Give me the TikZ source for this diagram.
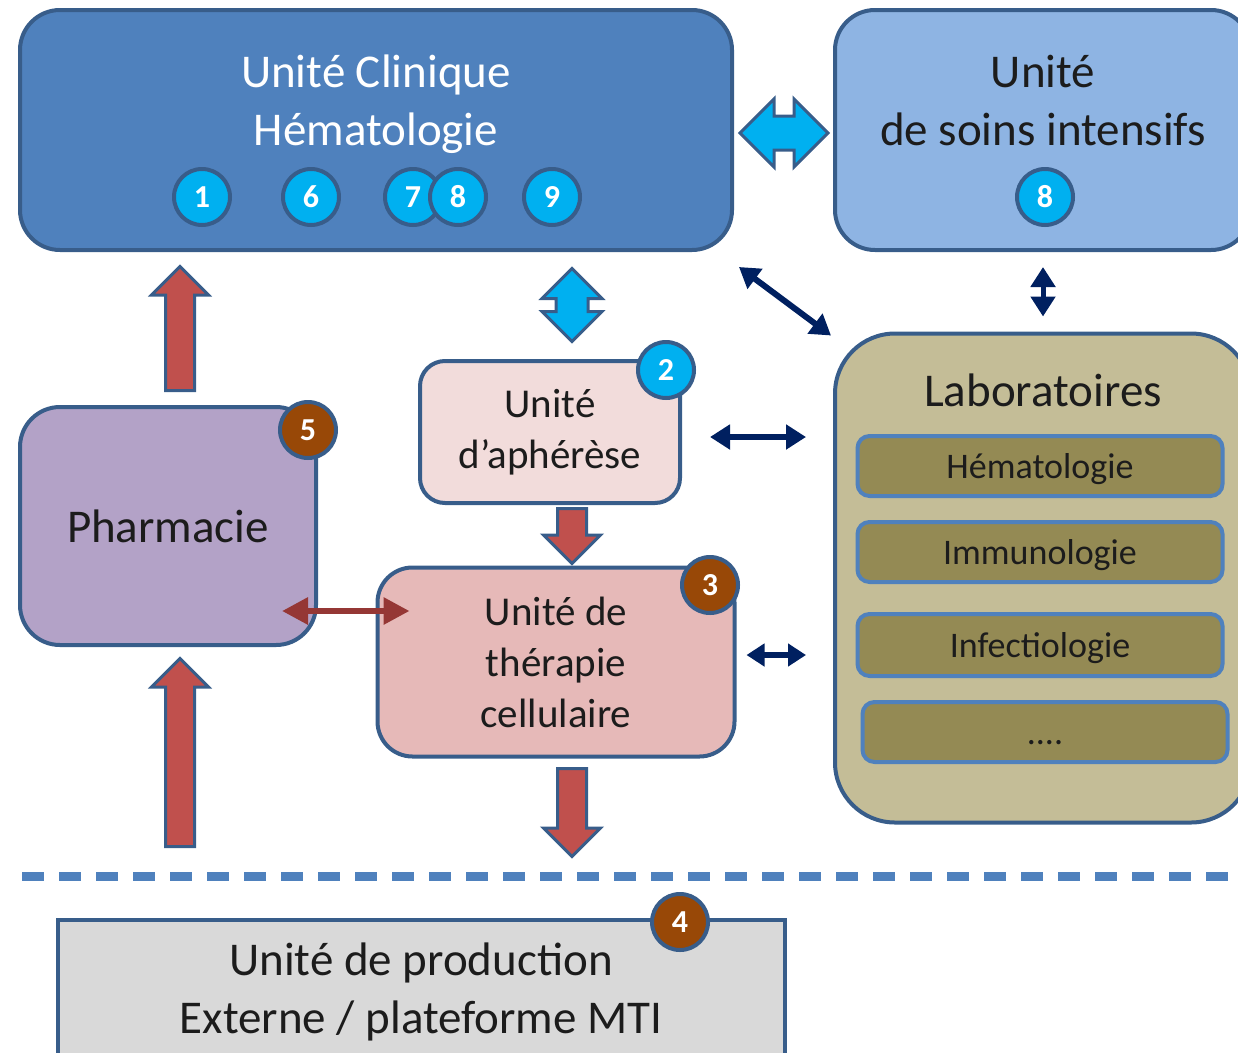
\documentclass[tikz,border=0pt]{standalone}
\usepackage{fontspec}
\setmainfont{Carlito}
\usepackage{tikz}
\usetikzlibrary{arrows.meta,shapes.arrows,calc}

\definecolor{frame}{HTML}{385D8A}
\definecolor{clinfill}{HTML}{4F81BD}
\definecolor{soinsfill}{HTML}{8EB4E3}
\definecolor{cyanb}{HTML}{00B0F0}
\definecolor{brownb}{HTML}{984807}
\definecolor{aphfill}{HTML}{F2DCDB}
\definecolor{therfill}{HTML}{E6B9B8}
\definecolor{pharfill}{HTML}{B3A2C7}
\definecolor{labofill}{HTML}{C4BD97}
\definecolor{subfill}{HTML}{948A54}
\definecolor{subframe}{HTML}{4F81BD}
\definecolor{prodfill}{HTML}{D9D9D9}
\definecolor{redarr}{HTML}{C0504D}
\definecolor{darkred}{HTML}{953735}
\definecolor{navy}{HTML}{002060}
\definecolor{ink}{HTML}{1C1C1C}

\tikzset{
  unit/.style={draw=frame, line width=4pt, inner sep=0pt},
  bigtext/.style={font=\fontsize{47}{58}\selectfont, align=center},
  midtext/.style={font=\fontsize{41}{51}\selectfont, align=center, text=ink},
  lab/.style={draw=subframe, line width=4pt, fill=subfill, rounded corners=12pt,
    minimum width=365pt, minimum height=60pt, inner sep=0pt, text height=24pt, text depth=0pt,
    font=\fontsize{36}{36}\selectfont, text=ink},
  num/.style={circle, draw=frame, line width=4pt, fill=cyanb, minimum size=56pt,
    inner sep=0pt, text=white, font=\fontsize{32}{32}\selectfont\bfseries},
  numb/.style={num, fill=brownb},
  bluedbl/.style={double arrow, draw=frame, line width=3pt, fill=cyanb},
  redup/.style={single arrow, draw=frame, line width=3pt, fill=redarr, inner sep=13pt,
    minimum width=55pt, single arrow head extend=14pt, anchor=tail},
  thin/.style={navy, line width=6pt, {Triangle[length=20pt,width=24pt]}-{Triangle[length=20pt,width=24pt]}},
}

\begin{document}
\begin{tikzpicture}[x=1pt,y=-1pt]
\clip (0,0) rectangle (1238,1052);

\draw (376,130) node[unit, fill=clinfill, rounded corners=40pt, minimum width=712pt, minimum height=240pt] (clinique) {};
\draw (376,104) node[bigtext, text=white] (cliniqueT) {Unité Clinique\\Hématologie};
\draw (1043,130) node[unit, fill=soinsfill, rounded corners=40pt, minimum width=416pt, minimum height=240pt] (soins) {};
\draw (1043,101) node[bigtext, text=ink] (soinsT) {Unité\\de soins intensifs};

\draw (1043,578) node[unit, fill=labofill, rounded corners=60pt, minimum width=416pt, minimum height=489pt] (labo) {};
\draw (1043,390) node[bigtext, text=ink] (laboT) {Laboratoires};
\draw (1040,466) node[lab] (hemato) {Hématologie};
\draw (1040,552) node[lab] (immuno) {Immunologie};
\draw (1040,645) node[lab, minimum height=62pt] (infectio) {Infectiologie};
\draw (1045,732) node[lab] (autres) {....};

\draw (550,432) node[unit, midtext, fill=aphfill, rounded corners=25pt, minimum width=260pt, minimum height=142pt] (aph) {Unité\\d’aphérèse};
\draw (556,662) node[unit, midtext, fill=therfill, rounded corners=35pt, minimum width=357pt, minimum height=189pt] (ther) {Unité de\\thérapie\\cellulaire};
\draw (168,526) node[unit, bigtext, text=ink, fill=pharfill, rounded corners=40pt, minimum width=296pt, minimum height=238pt] (pharma) {Pharmacie};
\draw (421,992) node[unit, bigtext, text=ink, fill=prodfill, minimum width=727pt, minimum height=145pt] (prod) {Unité de production\\Externe / plateforme MTI};

\draw[subframe, line width=9pt, dash pattern=on 22pt off 15pt] (22,876) -- (1232,876);

\draw (784,133) node[bluedbl, inner sep=15.5pt, minimum height=88pt, minimum width=65pt, double arrow head extend=17pt] (cs) {};
\draw (572,305) node[bluedbl, inner sep=14.5pt, shape border rotate=90, minimum height=73pt, minimum width=57pt, double arrow head extend=14pt] (ca) {};
\draw (180,392) node[redup, shape border rotate=90, minimum height=124pt] (pc) {};
\draw (180,848) node[redup, shape border rotate=90, minimum height=188pt] (xp) {};
\draw (572,507) node[redup, shape border rotate=270, minimum height=55pt] (at) {};
\draw (572,767) node[redup, shape border rotate=270, minimum height=88pt] (tx) {};

\path[thin] ($(clinique.south east)+(5,15)$) edge ($(labo.north west)+(-2,4)$);
\path[thin, line width=5pt] (soins.south) edge[shorten <=15pt, shorten >=15pt] (labo.north);
\path[thin] ($(aph.east)+(0,5)$) edge[shorten <=28pt, shorten >=27pt] ($(labo.west)+(0,-141)$);
\path[thin, {Triangle[length=18pt,width=22pt]}-{Triangle[length=18pt,width=22pt]}] ($(ther.east)+(0,-7)$) edge[shorten <=10pt, shorten >=27pt] ($(labo.west)+(0,77)$);
\path[thin, darkred, {Triangle[length=26pt,width=26pt]}-{Triangle[length=26pt,width=26pt]}] ($(pharma.east)+(0,85)$) edge[shorten <=-36pt, shorten >=-34pt] ($(ther.west)+(0,-51)$);

\draw (202,197) node[num] (n1) {1};
\draw (311,197) node[num] (n6) {6};
\draw (413,197) node[num] (n7) {7};
\draw (458,197) node[num] (n8) {8};
\draw (552,197) node[num] (n9) {9};
\draw (1045,197) node[num] (s8) {8};
\draw (666,370) node[num] (n2) {2};
\draw (710,585) node[numb] (n3) {3};
\draw (308,430) node[numb] (n5) {5};
\draw (680,922) node[numb] (n4) {4};
\end{tikzpicture}
\end{document}
